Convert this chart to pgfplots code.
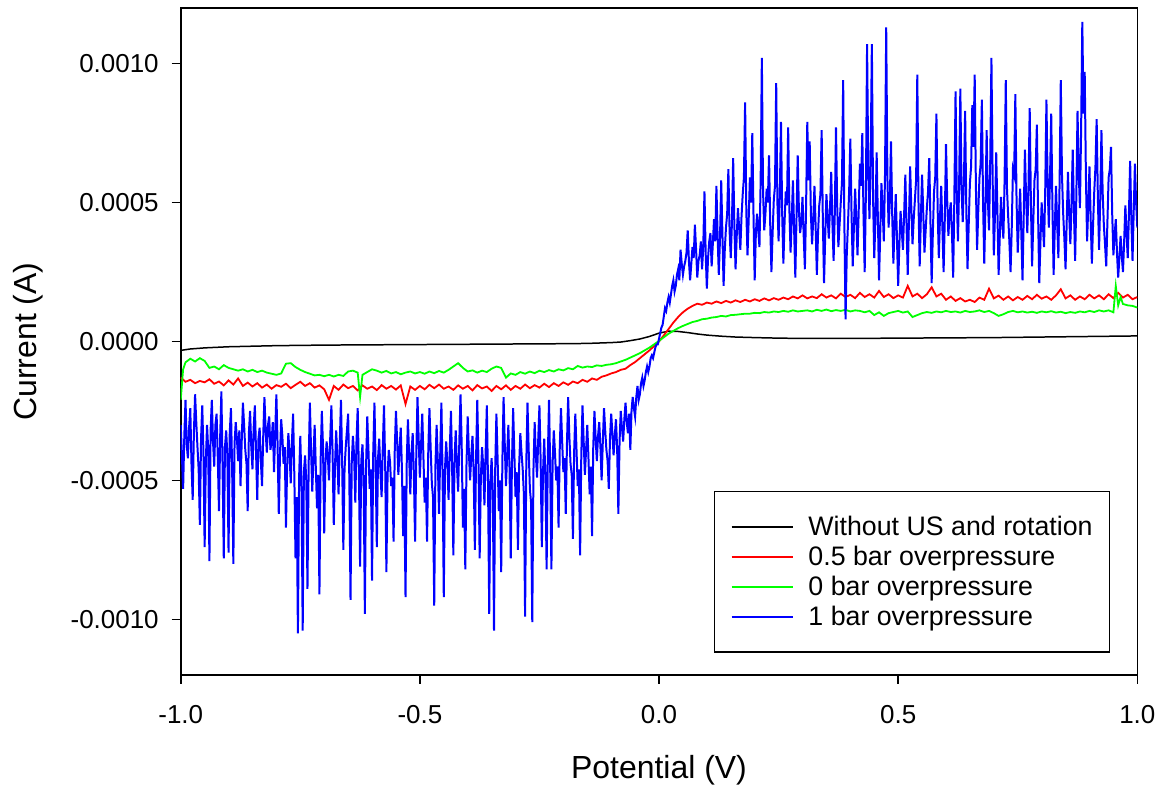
\documentclass[border=0pt]{standalone}
\usepackage{pgfplots}
\pgfplotsset{compat=1.18}
\usepackage{fontspec}
\setmainfont{Liberation Sans}
\definecolor{pgreen}{RGB}{0,255,0}
\begin{document}
\begin{tikzpicture}
\begin{axis}[
  name=ax,
  scale only axis,
  width=479pt, height=334pt,
  xmin=-1, xmax=1, ymin=-12, ymax=12,
  axis line style={line width=0.8pt},
  tick style={line width=0.8pt, black},
  tick align=outside, tick pos=left,
  major tick length=4.5pt,
  xtick={-1,-0.5,0,0.5,1},
  xticklabels={-1.0,-0.5,0.0,0.5,1.0},
  ytick={-10,-5,0,5,10},
  yticklabels={-0.0010,-0.0005,0.0000,0.0005,0.0010},
  ticklabel style={font=\fontsize{13}{15}\selectfont},
  xticklabel style={yshift=-7pt},
  yticklabel style={xshift=-3pt},
  legend style={at={(axis description cs:0.9718,0.033)}, anchor=south east,
    draw=black, line width=0.8pt, font=\fontsize{13.4}{16}\selectfont,
    inner xsep=8pt, inner ysep=10.25pt, row sep=0pt,
    nodes={inner ysep=1.5pt, inner xsep=0.5pt, text height=10.5pt, text depth=1.5pt}},
  legend cell align=left,
  legend image code/.code={\draw[#1, line width=0.9pt] (0pt,0pt) -- (31pt,0pt); \path (37.5pt,0pt);},
]
% Without US and rotation (units 1e-4 A)
\addplot[black, line width=0.75pt] coordinates {
(-1.00,-0.32)(-0.98,-0.27)(-0.95,-0.23)(-0.90,-0.19)(-0.85,-0.17)(-0.80,-0.15)
(-0.70,-0.13)(-0.60,-0.12)(-0.50,-0.11)(-0.40,-0.10)(-0.30,-0.09)(-0.20,-0.08)
(-0.15,-0.07)(-0.10,-0.04)(-0.08,-0.02)(-0.06,0.03)(-0.04,0.09)(-0.02,0.18)
(0.00,0.30)(0.02,0.37)(0.04,0.36)(0.06,0.32)(0.08,0.27)(0.10,0.23)(0.13,0.19)
(0.16,0.16)(0.20,0.14)(0.25,0.12)(0.30,0.11)(0.40,0.11)(0.50,0.12)(0.60,0.13)
(0.70,0.14)(0.80,0.16)(0.90,0.18)(1.00,0.20)};
\addlegendentry{Without US and rotation}
% 0.5 bar overpressure
\addplot[red, line width=0.9pt] coordinates {
(-1.00,-1.30)(-0.99,-1.45)(-0.98,-1.38)(-0.97,-1.50)(-0.96,-1.42)(-0.95,-1.47)
(-0.94,-1.36)(-0.93,-1.52)(-0.92,-1.44)(-0.91,-1.58)(-0.90,-1.40)(-0.89,-1.55)
(-0.88,-1.33)(-0.87,-1.60)(-0.86,-1.48)(-0.85,-1.62)(-0.84,-1.50)(-0.83,-1.66)
(-0.82,-1.55)(-0.81,-1.70)(-0.80,-1.57)(-0.79,-1.63)(-0.78,-1.52)(-0.77,-1.68)
(-0.76,-1.56)(-0.75,-1.45)(-0.74,-1.60)(-0.73,-1.50)(-0.72,-1.66)(-0.71,-1.58)
(-0.70,-1.72)(-0.69,-2.10)(-0.68,-1.60)(-0.67,-1.74)(-0.66,-1.55)(-0.65,-1.68)
(-0.64,-1.60)(-0.63,-1.76)(-0.62,-1.58)(-0.61,-1.70)(-0.60,-1.62)(-0.59,-1.75)
(-0.58,-1.57)(-0.57,-1.70)(-0.56,-1.60)(-0.55,-1.73)(-0.54,-1.58)(-0.53,-2.25)
(-0.52,-1.62)(-0.51,-1.74)(-0.50,-1.60)(-0.49,-1.72)(-0.48,-1.56)(-0.47,-1.68)
(-0.46,-1.55)(-0.45,-1.70)(-0.44,-1.62)(-0.43,-1.74)(-0.42,-1.58)(-0.41,-1.70)
(-0.40,-1.60)(-0.39,-1.76)(-0.38,-1.57)(-0.37,-1.69)(-0.36,-1.62)(-0.35,-1.78)
(-0.34,-1.60)(-0.33,-1.72)(-0.32,-1.58)(-0.31,-1.74)(-0.30,-1.60)(-0.29,-1.70)
(-0.28,-1.55)(-0.27,-1.68)(-0.26,-1.57)(-0.25,-1.66)(-0.24,-1.52)(-0.23,-1.64)
(-0.22,-1.50)(-0.21,-1.60)(-0.20,-1.47)(-0.19,-1.56)(-0.18,-1.44)(-0.17,-1.50)
(-0.16,-1.38)(-0.15,-1.45)(-0.14,-1.33)(-0.13,-1.38)(-0.12,-1.27)(-0.11,-1.22)
(-0.10,-1.15)(-0.09,-1.10)(-0.08,-1.02)(-0.07,-0.98)(-0.06,-0.85)(-0.05,-0.74)
(-0.04,-0.60)(-0.03,-0.46)(-0.02,-0.32)(-0.01,-0.16)(0.00,0.00)(0.01,0.22)
(0.02,0.45)(0.03,0.68)(0.04,0.88)(0.05,1.05)(0.06,1.18)(0.07,1.28)(0.08,1.36)
(0.09,1.32)(0.10,1.40)(0.11,1.36)(0.12,1.44)(0.13,1.38)(0.14,1.46)(0.15,1.40)
(0.16,1.48)(0.17,1.42)(0.18,1.50)(0.19,1.44)(0.20,1.52)(0.21,1.46)(0.22,1.55)
(0.23,1.48)(0.24,1.56)(0.25,1.50)(0.26,1.58)(0.27,1.52)(0.28,1.62)(0.29,1.55)
(0.30,1.66)(0.31,1.55)(0.32,1.62)(0.33,1.56)(0.34,1.70)(0.35,1.58)(0.36,1.66)
(0.37,1.55)(0.38,1.72)(0.39,1.60)(0.40,1.68)(0.41,1.56)(0.42,1.75)(0.43,1.60)
(0.44,1.70)(0.45,1.58)(0.46,1.82)(0.47,1.60)(0.48,1.70)(0.49,1.56)(0.50,1.66)
(0.51,1.58)(0.52,2.00)(0.53,1.62)(0.54,1.72)(0.55,1.56)(0.56,1.70)(0.57,1.95)
(0.58,1.62)(0.59,1.72)(0.60,1.50)(0.61,1.62)(0.62,1.46)(0.63,1.56)(0.64,1.44)
(0.65,1.50)(0.66,1.42)(0.67,1.58)(0.68,1.50)(0.69,1.90)(0.70,1.55)(0.71,1.65)
(0.72,1.50)(0.73,1.62)(0.74,1.48)(0.75,1.60)(0.76,1.50)(0.77,1.64)(0.78,1.52)
(0.79,1.68)(0.80,1.54)(0.81,1.62)(0.82,1.50)(0.83,1.66)(0.84,1.88)(0.85,1.55)
(0.86,1.66)(0.87,1.50)(0.88,1.62)(0.89,1.52)(0.90,1.68)(0.91,1.55)(0.92,1.66)
(0.93,1.52)(0.94,1.70)(0.95,1.56)(0.96,1.75)(0.97,1.58)(0.98,1.68)(0.99,1.52)
(1.00,1.60)};
\addlegendentry{0.5 bar overpressure}
% 0 bar overpressure
\addplot[pgreen, line width=0.9pt] coordinates {
(-1.00,-2.10)(-0.995,-1.00)(-0.99,-0.75)(-0.98,-0.62)(-0.97,-0.72)(-0.96,-0.60)
(-0.95,-0.70)(-0.94,-0.95)(-0.93,-0.90)(-0.92,-1.00)(-0.91,-0.85)(-0.90,-0.95)
(-0.89,-1.00)(-0.88,-1.05)(-0.87,-1.00)(-0.86,-1.08)(-0.85,-1.02)(-0.84,-1.10)
(-0.83,-1.05)(-0.82,-1.12)(-0.81,-1.16)(-0.80,-1.20)(-0.79,-1.15)(-0.78,-0.80)
(-0.77,-0.78)(-0.76,-0.92)(-0.75,-1.02)(-0.74,-1.10)(-0.73,-1.16)(-0.72,-1.22)
(-0.71,-1.20)(-0.70,-1.25)(-0.69,-1.20)(-0.68,-1.26)(-0.67,-1.20)(-0.66,-1.24)
(-0.65,-1.08)(-0.64,-1.05)(-0.63,-1.12)(-0.625,-2.00)(-0.62,-1.20)(-0.61,-1.10)
(-0.60,-1.00)(-0.59,-1.05)(-0.58,-1.12)(-0.57,-1.06)(-0.56,-1.15)(-0.55,-1.10)
(-0.54,-1.18)(-0.53,-1.12)(-0.52,-1.08)(-0.51,-1.15)(-0.50,-1.10)(-0.49,-1.16)
(-0.48,-1.08)(-0.47,-1.14)(-0.46,-1.06)(-0.45,-1.12)(-0.44,-1.02)(-0.43,-0.90)
(-0.42,-0.78)(-0.41,-0.95)(-0.40,-1.08)(-0.39,-1.04)(-0.38,-1.12)(-0.37,-1.05)
(-0.36,-1.10)(-0.35,-0.98)(-0.34,-0.90)(-0.33,-0.95)(-0.32,-1.30)(-0.31,-1.15)
(-0.30,-1.20)(-0.29,-1.10)(-0.28,-1.16)(-0.27,-1.08)(-0.26,-1.14)(-0.25,-1.05)
(-0.24,-1.10)(-0.23,-1.03)(-0.22,-1.08)(-0.21,-1.00)(-0.20,-1.04)(-0.19,-0.96)
(-0.18,-1.00)(-0.17,-0.88)(-0.16,-0.94)(-0.15,-0.90)(-0.14,-0.92)(-0.13,-0.86)
(-0.12,-0.88)(-0.11,-0.84)(-0.10,-0.82)(-0.09,-0.78)(-0.08,-0.72)(-0.07,-0.66)
(-0.06,-0.58)(-0.05,-0.50)(-0.04,-0.42)(-0.03,-0.32)(-0.02,-0.22)(-0.01,-0.10)
(0.00,0.02)(0.01,0.15)(0.02,0.28)(0.03,0.38)(0.04,0.48)(0.05,0.56)(0.06,0.63)
(0.07,0.70)(0.08,0.74)(0.09,0.80)(0.10,0.82)(0.11,0.86)(0.12,0.88)(0.13,0.92)
(0.14,0.90)(0.15,0.95)(0.16,0.96)(0.17,0.98)(0.18,1.00)(0.19,1.00)(0.20,1.03)
(0.21,1.02)(0.22,1.06)(0.23,1.04)(0.24,1.08)(0.25,1.06)(0.26,1.10)(0.27,1.07)
(0.28,1.12)(0.29,1.08)(0.30,1.10)(0.31,1.12)(0.32,1.08)(0.33,1.14)(0.34,1.10)
(0.35,1.15)(0.36,1.09)(0.37,1.13)(0.38,1.10)(0.39,1.14)(0.40,1.08)(0.41,1.12)
(0.42,1.10)(0.43,1.05)(0.44,1.10)(0.45,0.95)(0.46,1.05)(0.47,0.92)(0.48,1.02)
(0.49,1.06)(0.50,1.10)(0.51,1.04)(0.52,1.08)(0.53,0.88)(0.54,0.95)(0.55,1.02)
(0.56,1.06)(0.57,1.03)(0.58,1.08)(0.59,1.05)(0.60,1.10)(0.61,1.06)(0.62,1.08)
(0.63,1.04)(0.64,1.10)(0.65,1.06)(0.66,1.08)(0.67,1.12)(0.68,1.06)(0.69,1.10)
(0.70,1.02)(0.71,0.92)(0.72,0.98)(0.73,1.06)(0.74,1.10)(0.75,1.05)(0.76,1.08)
(0.77,1.04)(0.78,1.07)(0.79,1.03)(0.80,1.08)(0.81,1.05)(0.82,1.09)(0.83,1.04)
(0.84,1.07)(0.85,1.02)(0.86,1.06)(0.87,1.03)(0.88,1.08)(0.89,1.05)(0.90,1.10)
(0.91,1.06)(0.92,1.12)(0.93,1.08)(0.94,1.12)(0.95,1.05)(0.955,2.00)(0.96,1.30)
(0.965,1.60)(0.97,1.35)(0.98,1.30)(0.99,1.28)(1.00,1.22)};
\addlegendentry{0 bar overpressure}
% 1 bar overpressure
\addplot[blue, line width=1.0pt] coordinates {
(-1.000,-3.0)(-0.9975,-4.1)(-0.995,-5.3)(-0.9925,-3.4)(-0.990,-2.1)(-0.9875,-3.7)(-0.985,-4.2)(-0.9825,-3.1)(-0.980,-2.4)(-0.9775,-4.4)
(-0.975,-5.7)(-0.9725,-3.3)(-0.970,-1.9)(-0.9675,-2.9)(-0.965,-3.8)(-0.9625,-4.6)(-0.960,-6.6)(-0.9575,-3.5)(-0.955,-2.3)(-0.9525,-4.0)
(-0.950,-7.4)(-0.9475,-4.3)(-0.945,-3.0)(-0.9425,-3.9)(-0.940,-7.9)(-0.9375,-3.2)(-0.935,-2.1)(-0.9325,-3.6)(-0.930,-4.5)(-0.9275,-3.0)
(-0.925,-2.6)(-0.9225,-4.2)(-0.920,-6.1)(-0.9175,-3.4)(-0.915,-1.8)(-0.9125,-4.5)(-0.910,-7.8)(-0.9075,-3.8)(-0.905,-3.2)(-0.9025,-4.1)
(-0.900,-7.6)(-0.8975,-3.3)(-0.895,-2.4)(-0.8925,-4.6)(-0.890,-8.0)(-0.8875,-3.7)(-0.885,-2.9)(-0.8825,-3.5)(-0.880,-4.3)(-0.8775,-3.2)
(-0.875,-5.2)(-0.8725,-3.6)(-0.870,-2.2)(-0.8675,-3.0)(-0.865,-3.9)(-0.8625,-4.4)(-0.860,-6.1)(-0.8575,-3.3)(-0.855,-2.5)(-0.8525,-3.8)
(-0.850,-4.6)(-0.8475,-3.1)(-0.845,-2.3)(-0.8425,-4.0)(-0.840,-5.7)(-0.8375,-3.5)(-0.835,-3.1)(-0.8325,-4.3)(-0.830,-5.2)(-0.8275,-3.4)
(-0.825,-2.0)(-0.8225,-3.2)(-0.820,-4.0)(-0.8175,-3.0)(-0.815,-2.7)(-0.8125,-3.9)(-0.810,-3.6)(-0.8075,-2.9)(-0.805,-4.7)(-0.8025,-3.3)
(-0.800,-1.9)(-0.7975,-3.7)(-0.795,-6.2)(-0.7925,-4.1)(-0.790,-2.8)(-0.7875,-3.4)(-0.785,-4.4)(-0.7825,-3.8)(-0.780,-6.7)(-0.7775,-4.5)
(-0.775,-3.3)(-0.7725,-4.0)(-0.770,-5.1)(-0.7675,-3.6)(-0.765,-2.6)(-0.7625,-4.8)(-0.760,-7.8)(-0.7575,-5.6)(-0.755,-10.5)(-0.7525,-4.9)
(-0.750,-3.4)(-0.7475,-5.2)(-0.745,-10.4)(-0.7425,-4.7)(-0.740,-4.1)(-0.7375,-5.0)(-0.735,-8.9)(-0.7325,-4.4)(-0.730,-2.2)(-0.7275,-3.9)
(-0.725,-5.4)(-0.7225,-4.2)(-0.720,-3.0)(-0.7175,-4.6)(-0.715,-6.0)(-0.7125,-4.8)(-0.710,-9.1)(-0.7075,-4.3)(-0.705,-2.5)(-0.7025,-3.8)
(-0.700,-6.9)(-0.6975,-4.4)(-0.695,-3.6)(-0.6925,-4.1)(-0.690,-5.0)(-0.6875,-3.5)(-0.685,-2.3)(-0.6825,-4.0)(-0.680,-6.6)(-0.6775,-4.5)
(-0.675,-3.2)(-0.6725,-4.2)(-0.670,-5.5)(-0.6675,-3.7)(-0.665,-2.1)(-0.6625,-4.3)(-0.660,-7.5)(-0.6575,-4.6)(-0.655,-3.8)(-0.6525,-3.2)
(-0.650,-2.6)(-0.6475,-4.9)(-0.645,-9.3)(-0.6425,-4.4)(-0.640,-3.4)(-0.6375,-4.1)(-0.635,-5.8)(-0.6325,-3.6)(-0.630,-2.4)(-0.6275,-4.7)
(-0.625,-8.1)(-0.6225,-4.3)(-0.620,-3.7)(-0.6175,-5.0)(-0.615,-9.8)(-0.6125,-4.5)(-0.610,-2.7)(-0.6075,-3.9)(-0.605,-5.3)(-0.6025,-4.6)
(-0.600,-8.6)(-0.5975,-4.0)(-0.595,-2.2)(-0.5925,-4.4)(-0.590,-7.4)(-0.5875,-4.2)(-0.585,-3.5)(-0.5825,-4.7)(-0.580,-5.6)(-0.5775,-3.8)
(-0.575,-2.3)(-0.5725,-4.5)(-0.570,-8.3)(-0.5675,-4.8)(-0.565,-3.9)(-0.5625,-4.3)(-0.560,-5.2)(-0.5575,-4.9)(-0.555,-7.2)(-0.5525,-3.9)
(-0.550,-2.5)(-0.5475,-3.6)(-0.545,-4.8)(-0.5425,-3.9)(-0.540,-3.1)(-0.5375,-4.6)(-0.535,-7.0)(-0.5325,-5.2)(-0.530,-9.2)(-0.5275,-4.4)
(-0.525,-2.8)(-0.5225,-4.1)(-0.520,-5.5)(-0.5175,-4.0)(-0.515,-3.3)(-0.5125,-4.8)(-0.510,-7.2)(-0.5075,-4.1)(-0.505,-2.0)(-0.5025,-3.5)
(-0.500,-4.9)(-0.4975,-3.7)(-0.495,-2.6)(-0.4925,-4.2)(-0.490,-5.8)(-0.4875,-4.9)(-0.485,-7.2)(-0.4825,-4.0)(-0.480,-2.4)(-0.4775,-3.8)
(-0.475,-5.1)(-0.4725,-5.6)(-0.470,-9.5)(-0.4675,-4.5)(-0.465,-3.0)(-0.4625,-4.3)(-0.460,-6.2)(-0.4575,-4.1)(-0.455,-2.2)(-0.4525,-4.8)
(-0.450,-9.2)(-0.4475,-4.6)(-0.445,-3.6)(-0.4425,-4.4)(-0.440,-5.7)(-0.4375,-3.9)(-0.435,-2.5)(-0.4325,-4.6)(-0.430,-7.7)(-0.4275,-4.2)
(-0.425,-3.2)(-0.4225,-4.5)(-0.420,-5.4)(-0.4175,-3.6)(-0.415,-1.9)(-0.4125,-3.8)(-0.410,-6.7)(-0.4075,-5.3)(-0.405,-8.2)(-0.4025,-4.4)
(-0.400,-2.7)(-0.3975,-4.0)(-0.395,-5.0)(-0.3925,-4.1)(-0.390,-3.4)(-0.3875,-4.7)(-0.385,-7.5)(-0.3825,-4.2)(-0.380,-2.1)(-0.3775,-4.3)
(-0.375,-7.8)(-0.3725,-4.9)(-0.370,-3.8)(-0.3675,-4.5)(-0.365,-5.9)(-0.3625,-4.0)(-0.360,-2.3)(-0.3575,-5.1)(-0.355,-9.8)(-0.3525,-5.0)
(-0.350,-4.2)(-0.3475,-5.4)(-0.345,-10.4)(-0.3425,-4.6)(-0.340,-2.6)(-0.3375,-4.2)(-0.335,-6.1)(-0.3325,-5.0)(-0.330,-8.3)(-0.3275,-4.3)
(-0.325,-2.0)(-0.3225,-3.7)(-0.320,-5.2)(-0.3175,-4.1)(-0.315,-3.0)(-0.3125,-4.6)(-0.310,-7.8)(-0.3075,-4.4)(-0.305,-2.4)(-0.3025,-4.0)
(-0.300,-5.6)(-0.2975,-4.7)(-0.295,-7.5)(-0.2925,-4.5)(-0.290,-3.3)(-0.2875,-4.0)(-0.285,-4.6)(-0.2825,-5.5)(-0.280,-9.9)(-0.2775,-4.4)
(-0.275,-2.2)(-0.2725,-3.9)(-0.270,-5.3)(-0.2675,-5.8)(-0.265,-10.1)(-0.2625,-4.6)(-0.260,-2.9)(-0.2575,-4.1)(-0.255,-4.9)(-0.2525,-3.5)
(-0.250,-2.3)(-0.2475,-4.3)(-0.245,-7.4)(-0.2425,-4.7)(-0.240,-3.5)(-0.2375,-4.9)(-0.235,-8.2)(-0.2325,-4.2)(-0.230,-2.1)(-0.2275,-4.6)
(-0.225,-8.2)(-0.2225,-4.4)(-0.220,-3.2)(-0.2175,-4.0)(-0.215,-5.0)(-0.2125,-4.5)(-0.210,-6.7)(-0.2075,-3.8)(-0.205,-2.4)(-0.2025,-3.6)
(-0.200,-4.7)(-0.1975,-4.2)(-0.195,-6.2)(-0.1925,-3.7)(-0.190,-2.0)(-0.1875,-3.4)(-0.185,-4.4)(-0.1825,-4.8)(-0.180,-7.1)(-0.1775,-4.0)
(-0.175,-2.6)(-0.1725,-3.9)(-0.170,-5.2)(-0.1675,-4.6)(-0.165,-7.7)(-0.1625,-4.1)(-0.160,-2.3)(-0.1575,-3.6)(-0.155,-4.8)(-0.1525,-3.9)
(-0.150,-3.0)(-0.1475,-4.2)(-0.145,-5.5)(-0.1425,-4.5)(-0.140,-7.0)(-0.1375,-3.8)(-0.135,-2.5)(-0.1325,-3.5)(-0.130,-4.3)(-0.1275,-3.4)
(-0.125,-2.9)(-0.1225,-3.8)(-0.120,-5.0)(-0.1175,-3.6)(-0.115,-2.4)(-0.1125,-3.2)(-0.110,-3.9)(-0.1075,-4.3)(-0.105,-5.3)(-0.1025,-3.5)
(-0.100,-2.6)(-0.0975,-3.3)(-0.095,-4.1)(-0.0925,-3.4)(-0.090,-2.8)(-0.0875,-3.9)(-0.085,-6.2)(-0.0825,-3.6)(-0.080,-2.5)(-0.0775,-3.1)
(-0.075,-3.6)(-0.0725,-2.8)(-0.070,-2.2)(-0.0675,-2.9)(-0.065,-3.3)(-0.0625,-2.6)(-0.060,-3.9)(-0.0575,-2.5)(-0.055,-2.0)(-0.0525,-2.4)
(-0.050,-2.7)(-0.0475,-2.0)(-0.045,-1.6)(-0.0425,-2.1)(-0.040,-1.9)(-0.0375,-1.5)(-0.035,-1.3)(-0.0325,-1.6)(-0.030,-1.4)(-0.0275,-1.1)
(-0.025,-0.9)(-0.0225,-1.1)(-0.020,-0.9)(-0.0175,-0.6)(-0.015,-0.5)(-0.0125,-0.6)(-0.010,-0.4)(-0.0075,-0.2)(-0.005,-0.1)(-0.0025,-0.1)
(0.000,0.1)
(0.0025,0.3)(0.005,0.5)(0.0075,0.6)(0.010,0.9)(0.0125,1.2)(0.015,1.1)(0.0175,1.4)(0.020,1.6)(0.0225,1.4)(0.025,1.7)(0.0275,2.0)
(0.030,2.2)(0.0325,1.8)(0.035,2.0)(0.0375,2.4)(0.040,2.6)(0.0425,2.2)(0.045,3.3)(0.0475,2.8)(0.050,2.4)(0.0525,2.7)
(0.055,2.9)(0.0575,3.2)(0.060,4.0)(0.0625,2.9)(0.065,2.2)(0.0675,2.8)(0.070,3.4)(0.0725,3.0)(0.075,4.2)(0.0775,3.3)
(0.080,2.3)(0.0825,2.9)(0.085,3.1)(0.0875,3.6)(0.090,2.6)(0.0925,3.4)(0.095,5.4)(0.0975,3.2)(0.100,1.9)(0.1025,3.0)
(0.105,3.6)(0.1075,3.9)(0.110,2.7)(0.1125,3.5)(0.115,4.4)(0.1175,3.6)(0.120,5.6)(0.1225,3.8)(0.125,2.4)(0.1275,3.7)
(0.130,5.8)(0.1325,3.9)(0.135,2.0)(0.1375,3.3)(0.140,4.1)(0.1425,4.6)(0.145,6.2)(0.1475,4.0)(0.150,3.0)(0.1525,4.3)
(0.155,6.6)(0.1575,4.2)(0.160,2.6)(0.1625,3.8)(0.165,4.8)(0.1675,4.1)(0.170,3.3)(0.1725,4.5)(0.175,5.3)(0.1775,5.9)
(0.180,8.6)(0.1825,4.7)(0.185,3.1)(0.1875,4.4)(0.190,5.9)(0.1925,5.0)(0.195,7.5)(0.1975,4.6)(0.200,2.2)(0.2025,3.9)
(0.205,4.6)(0.2075,4.0)(0.210,3.4)(0.2125,5.8)(0.215,10.2)(0.2175,5.4)(0.220,4.0)(0.2225,4.6)(0.225,5.5)(0.2275,5.0)
(0.230,6.7)(0.2325,4.2)(0.235,2.5)(0.2375,3.9)(0.240,5.1)(0.2425,5.6)(0.245,9.3)(0.2475,5.0)(0.250,3.6)(0.2525,5.2)
(0.255,7.9)(0.2575,4.6)(0.260,2.8)(0.2625,4.3)(0.265,5.4)(0.2675,4.9)(0.270,7.7)(0.2725,4.8)(0.275,3.2)(0.2775,4.4)
(0.280,5.8)(0.2825,4.0)(0.285,2.3)(0.2875,4.5)(0.290,6.7)(0.2925,4.7)(0.295,3.9)(0.2975,4.3)(0.300,5.2)(0.3025,3.8)
(0.305,2.6)(0.3075,4.9)(0.310,7.9)(0.3125,5.8)(0.315,7.2)(0.3175,4.6)(0.320,3.5)(0.3225,4.4)(0.325,5.6)(0.3275,4.1)
(0.330,2.4)(0.3325,3.9)(0.335,4.9)(0.3375,5.3)(0.340,7.6)(0.3425,4.4)(0.345,2.1)(0.3475,3.8)(0.350,5.3)(0.3525,4.5)
(0.355,3.7)(0.3575,4.8)(0.360,6.1)(0.3625,4.3)(0.365,2.9)(0.3675,4.6)(0.370,7.7)(0.3725,4.9)(0.375,3.4)(0.3775,4.2)
(0.380,5.0)(0.3825,5.7)(0.385,9.4)(0.3875,4.3)(0.390,0.8)(0.3925,3.1)(0.395,4.2)(0.3975,5.4)(0.400,7.3)(0.4025,4.6)
(0.405,2.7)(0.4075,4.1)(0.410,5.5)(0.4125,4.4)(0.415,3.1)(0.4175,4.7)(0.420,6.4)(0.4225,5.6)(0.425,7.5)(0.4275,4.6)
(0.430,2.5)(0.4325,5.3)(0.435,10.7)(0.4375,6.1)(0.440,4.4)(0.4425,6.6)(0.445,10.7)(0.4475,5.2)(0.450,3.0)(0.4525,4.4)
(0.455,6.8)(0.4575,4.5)(0.460,2.2)(0.4625,3.9)(0.465,5.7)(0.4675,4.8)(0.470,3.6)(0.4725,6.0)(0.475,11.3)(0.4775,5.9)
(0.480,4.1)(0.4825,5.0)(0.485,7.2)(0.4875,4.6)(0.490,2.8)(0.4925,4.2)(0.495,5.3)(0.4975,3.7)(0.500,2.0)(0.5025,3.5)
(0.505,4.7)(0.5075,4.0)(0.510,3.3)(0.5125,4.6)(0.515,6.0)(0.5175,4.2)(0.520,2.4)(0.5225,4.3)(0.525,6.3)(0.5275,4.8)
(0.530,3.5)(0.5325,4.4)(0.535,5.1)(0.5375,5.8)(0.540,9.6)(0.5425,5.0)(0.545,2.7)(0.5475,4.5)(0.550,6.0)(0.5525,4.6)
(0.555,3.2)(0.5575,4.0)(0.560,4.8)(0.5625,5.4)(0.565,6.6)(0.5675,4.3)(0.570,2.1)(0.5725,3.9)(0.575,5.4)(0.5775,5.9)
(0.580,8.2)(0.5825,4.8)(0.585,3.0)(0.5875,4.5)(0.590,5.6)(0.5925,4.1)(0.595,2.5)(0.5975,4.4)(0.600,7.1)(0.6025,5.1)
(0.605,3.8)(0.6075,4.6)(0.610,5.0)(0.6125,3.9)(0.615,2.3)(0.6175,5.2)(0.620,9.0)(0.6225,5.3)(0.625,3.6)(0.6275,5.7)
(0.630,9.1)(0.6325,5.5)(0.635,4.3)(0.6375,5.8)(0.640,8.3)(0.6425,4.7)(0.645,2.6)(0.6475,4.2)(0.650,5.7)(0.6525,6.3)
(0.655,8.5)(0.6575,7.0)(0.660,9.6)(0.6625,5.6)(0.665,3.3)(0.6675,4.7)(0.670,5.9)(0.6725,6.4)(0.675,8.7)(0.6775,5.0)
(0.680,2.8)(0.6825,4.9)(0.685,7.6)(0.6875,5.1)(0.690,4.0)(0.6925,6.5)(0.695,10.2)(0.6975,5.9)(0.700,3.1)(0.7025,4.6)
(0.705,6.8)(0.7075,4.7)(0.710,2.4)(0.7125,3.8)(0.715,5.2)(0.7175,4.3)(0.720,3.7)(0.7225,5.8)(0.725,9.4)(0.7275,5.5)
(0.730,4.5)(0.7325,3.6)(0.735,2.5)(0.7375,4.1)(0.740,6.2)(0.7425,6.0)(0.745,8.9)(0.7475,5.1)(0.750,3.2)(0.7525,4.4)
(0.755,5.5)(0.7575,3.9)(0.760,2.2)(0.7625,4.5)(0.765,6.9)(0.7675,5.2)(0.770,3.9)(0.7725,5.6)(0.775,8.4)(0.7775,5.0)
(0.780,2.7)(0.7825,4.3)(0.785,5.8)(0.7875,6.2)(0.790,7.8)(0.7925,4.6)(0.795,2.1)(0.7975,3.6)(0.800,5.0)(0.8025,4.2)
(0.805,3.4)(0.8075,5.5)(0.810,8.7)(0.8125,5.7)(0.815,4.1)(0.8175,5.9)(0.820,8.2)(0.8225,4.9)(0.825,2.4)(0.8275,4.1)
(0.830,5.6)(0.8325,4.2)(0.835,3.0)(0.8375,5.7)(0.840,9.4)(0.8425,6.0)(0.845,4.6)(0.8475,3.7)(0.850,2.6)(0.8525,4.4)
(0.855,6.1)(0.8575,4.6)(0.860,3.5)(0.8625,5.0)(0.865,6.9)(0.8675,4.7)(0.870,2.9)(0.8725,5.2)(0.875,8.3)(0.8775,6.1)
(0.880,4.8)(0.8825,7.6)(0.885,11.5)(0.8875,8.2)(0.890,9.7)(0.8925,6.0)(0.895,3.6)(0.8975,4.9)(0.900,6.3)(0.9025,4.4)
(0.905,2.8)(0.9075,4.2)(0.910,5.4)(0.9125,6.3)(0.915,8.0)(0.9175,5.2)(0.920,3.3)(0.9225,5.1)(0.925,7.6)(0.9275,5.4)
(0.930,4.2)(0.9325,3.5)(0.935,2.7)(0.9375,4.3)(0.940,5.9)(0.9425,6.2)(0.945,7.0)(0.9475,4.6)(0.950,3.1)(0.9525,3.8)
(0.955,4.4)(0.9575,3.2)(0.960,2.3)(0.9625,3.0)(0.965,3.8)(0.9675,3.1)(0.970,2.5)(0.9725,3.6)(0.975,4.9)(0.9775,3.9)
(0.980,3.0)(0.9825,4.6)(0.985,6.5)(0.9875,4.4)(0.990,2.9)(0.9925,4.7)(0.995,6.4)(0.9975,5.0)(1.000,4.1)};
\addlegendentry{1 bar overpressure}
\end{axis}
\node[rotate=90, anchor=base, font=\fontsize{16}{19}\selectfont] at ([xshift=-72pt]ax.west) {Current (A)};
\node[anchor=base, font=\fontsize{16}{19}\selectfont] at ([yshift=-52pt]ax.south) {Potential (V)};
\path ([xshift=-90.5pt, yshift=-57.5pt]ax.south west) rectangle ([xshift=11.5pt, yshift=4pt]ax.north east);
\end{tikzpicture}
\end{document}
